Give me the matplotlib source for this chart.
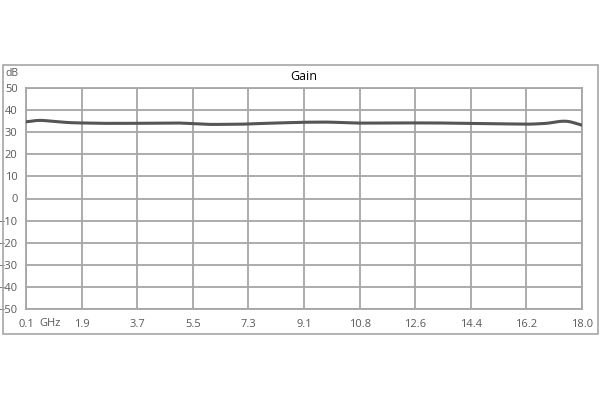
import matplotlib.pyplot as plt
import numpy as np
from matplotlib.patches import Rectangle

# gain curve
freq = [0.1, 0.5, 0.9, 1.5, 2.5, 3.5, 4.3, 5.0, 6.0, 7.0, 8.0, 9.0, 9.8, 10.8, 12.0, 13.2, 14.4, 15.4, 16.3, 16.9, 17.4, 17.7, 18.0]
gain = [34.6, 35.5, 35.0, 34.3, 34.0, 34.0, 34.1, 34.2, 33.5, 33.6, 34.1, 34.5, 34.6, 34.1, 34.2, 34.2, 34.0, 33.8, 33.6, 34.0, 35.2, 34.6, 32.9]

xlabels = ['0.1', '1.9', '3.7', '5.5', '7.3', '9.1', '10.8', '12.6', '14.4', '16.2', '18.0']
yticks = list(range(-50, 51, 10))

fig = plt.figure(figsize=(6, 4), dpi=100)
plt.rcParams['font.family'] = ['Open Sans', 'DejaVu Sans']

# outer frame
fig.patches.append(Rectangle((3/600, 66/400), 595/600, 269/400, transform=fig.transFigure,
                             fill=False, edgecolor='#a6a6a6', linewidth=1.2))

ax = fig.add_axes([26/600, 91/400, 556/600, 221/400])

# smooth the curve a little like the original
xs = np.linspace(freq[0], freq[-1], 400)
ys = np.interp(xs, freq, gain)
k = np.ones(9) / 9
ys_s = np.convolve(np.pad(ys, 4, mode='edge'), k, mode='valid')
ax.plot(xs, ys_s, color='#555555', linewidth=2.2, zorder=3)

ax.set_xlim(0.1, 18.0)
ax.set_ylim(-50, 50)
ax.set_xticks(np.linspace(0.1, 18.0, 11))
ax.set_xticklabels(xlabels)
ax.set_yticks(yticks)
ax.grid(True, color='#a6a6a6', linewidth=1.3)
ax.tick_params(length=0, labelsize=8, colors='#595959', pad=7)
ax.tick_params(axis='y', pad=6)
for s in ax.spines.values():
    s.set_color('#a6a6a6')
    s.set_linewidth(1.3)

ax.set_title('Gain', fontsize=9, color='#000000', pad=6)
fig.text(12/600, 1 - 73/400, 'dB', fontsize=7.5, color='#595959', ha='center', va='center')
fig.text(50/600, 1 - 323/400, 'GHz', fontsize=8, color='#595959', ha='center', va='center')

fig.savefig('out.png', dpi=100)
